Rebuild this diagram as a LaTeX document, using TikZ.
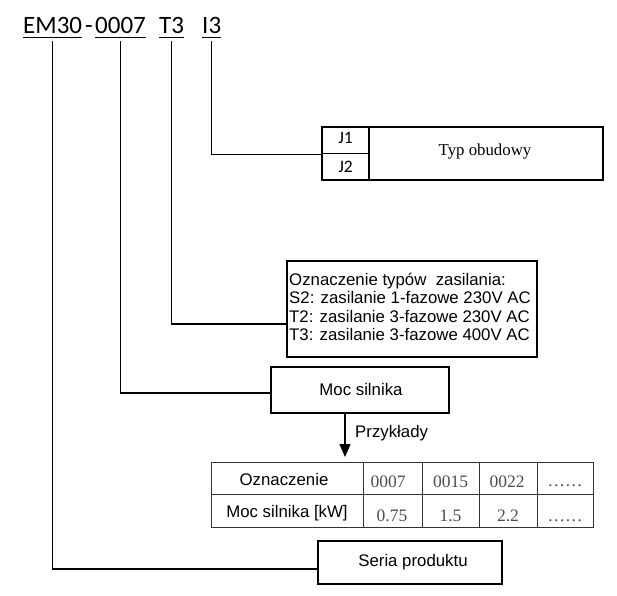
\documentclass[tikz,border=0pt]{standalone}
\usepackage{fontspec}
\setmainfont{Liberation Serif}
\newfontfamily\arialf{Liberation Sans}
\newfontfamily\calf{Carlito}
\usetikzlibrary{arrows.meta}
\tikzset{
  conn/.style={line width=1.2pt, line cap=rect},
  boxn/.style={draw, line width=1.2pt, inner sep=0pt, anchor=center},
  cell/.style={draw=black!80, line width=0.8pt, inner sep=0pt, anchor=center},
  sans/.style={font=\arialf\fontsize{16.8}{19}\selectfont, inner sep=0pt},
  ser/.style={font=\fontsize{16.8}{19}\selectfont, inner sep=0pt},
  num/.style={font=\fontsize{17.5}{19}\selectfont, text=black!70, inner sep=0pt, anchor=base},
  cal/.style={font=\calf\fontsize{17.5}{21}\selectfont, inner sep=0pt, anchor=base},
  title/.style={font=\calf\fontsize{25}{28}\selectfont, inner sep=0pt, anchor=base west, text depth=0pt},
  uline/.style={line width=1.3pt}
}
\begin{document}
\begin{tikzpicture}[x=1pt,y=-1pt]
\useasboundingbox[fill=white] (0,0) rectangle (617,595);

% title code
\node[title] (em) at (23,33) {EM30};
\node[title] (dash) at (85,33) {-};
\node[title] (pw) at (95,33) {0007};
\node[title] (t3) at (159,33) {T3};
\node[title] (i3) at (202,33) {I3};
\foreach \n in {em,pw,t3,i3}{
  \draw[uline] ([yshift=-4pt]\n.south west) -- ([yshift=-4pt]\n.south east);
}

% enclosure type box
\node[boxn, minimum width=281pt, minimum height=53pt] (typ) at (462.5,153.5) {};
\node[boxn, minimum width=47pt, minimum height=26.5pt] (j1) at (345.5,140.25) {};
\node[boxn, minimum width=47pt, minimum height=26.5pt] (j2) at (345.5,166.75) {};
\node[cal] (j1t) at (345.5,143) {J1};
\node[cal] (j2t) at (345.5,172.5) {J2};
\node[ser, anchor=base] (typt) at (485,155) {Typ obudowy};

% supply type box
\node[boxn, minimum width=250pt, minimum height=96pt] (power) at (412,309) {};
\node[sans, anchor=base west] (p1) at (289,285) {Oznaczenie typów\ \ zasilania:};
\node[sans, anchor=base west] (p2) at (289,303.5) {S2: zasilanie 1-fazowe 230V AC};
\node[sans, anchor=base west] (p3) at (289,322) {T2: zasilanie 3-fazowe 230V AC};
\node[sans, anchor=base west] (p4) at (289,340.5) {T3: zasilanie 3-fazowe 400V AC};

% motor power box
\node[boxn, minimum width=178pt, minimum height=46pt] (moc) at (360,390) {};
\node[sans, anchor=base] (moct) at (361,395) {Moc silnika};

% product series box
\node[boxn, minimum width=184pt, minimum height=43pt] (seria) at (410,562.5) {};
\node[sans, anchor=base] (seriat) at (413,566) {Seria produktu};

% table
\node[cell, minimum width=152pt, minimum height=32pt] (h0) at (287,478) {};
\node[cell, minimum width=59pt, minimum height=32pt] (h1) at (392.5,478) {};
\node[cell, minimum width=57pt, minimum height=32pt] (h2) at (450.5,478) {};
\node[cell, minimum width=58pt, minimum height=32pt] (h3) at (508,478) {};
\node[cell, minimum width=56pt, minimum height=32pt] (h4) at (565,478) {};
\node[cell, minimum width=152pt, minimum height=33pt] (r0) at (287,510.5) {};
\node[cell, minimum width=59pt, minimum height=33pt] (r1) at (392.5,510.5) {};
\node[cell, minimum width=57pt, minimum height=33pt] (r2) at (450.5,510.5) {};
\node[cell, minimum width=58pt, minimum height=33pt] (r3) at (508,510.5) {};
\node[cell, minimum width=56pt, minimum height=33pt] (r4) at (565,510.5) {};

\node[sans, anchor=base] (h0t) at (284,485) {Oznaczenie};
\node[sans, anchor=base] (r0t) at (287,517) {Moc silnika [kW]};
\node[num] (h1t) at (388,487) {0007};
\node[num] (h2t) at (450.5,487) {0015};
\node[num] (h3t) at (507,487) {0022};
\node[num] (h4t) at (565,486.5) {……};
\node[num] (r1t) at (392,521.5) {0.75};
\node[num] (r2t) at (450.5,521.5) {1.5};
\node[num] (r3t) at (508,521.5) {2.2};
\node[num] (r4t) at (565,521.5) {……};

% arrow
\coordinate (arrtip) at (345,457);
\draw[line width=1.2pt, -{Triangle[width=11pt,length=13pt]}] (moc.south -| arrtip) -- (arrtip);
\node[sans, anchor=base west] (przy) at (355,437) {Przykłady};

% connectors
\draw[conn] ([yshift=-8pt]i3.south) |- (j1.south west);
\draw[conn] ([yshift=-8pt]t3.south) |- ([yshift=-15pt]power.west);
\draw[conn] ([yshift=-8pt]pw.south) |- ([yshift=-3pt]moc.west);
\draw[conn] ([yshift=-8pt]em.south) |- ([yshift=-6.5pt]seria.west);
\end{tikzpicture}
\end{document}
